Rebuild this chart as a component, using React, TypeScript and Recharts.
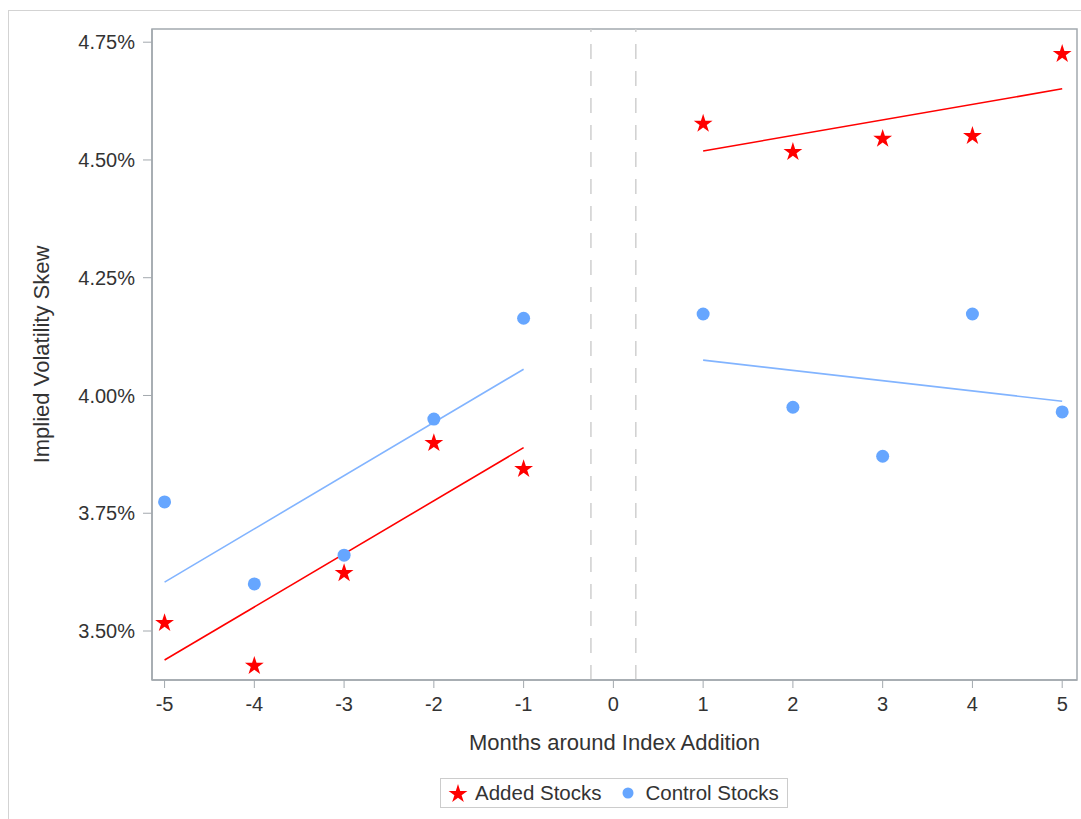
import React from 'react';
import {
  ComposedChart,
  XAxis,
  YAxis,
  Scatter,
  Line,
  ReferenceLine,
  ReferenceArea,
  Symbols,
} from 'recharts';

const months = [-5, -4, -3, -2, -1, 1, 2, 3, 4, 5];
const addedStocks = [3.519, 3.428, 3.625, 3.901, 3.846, 4.579, 4.519, 4.547, 4.553, 4.727];
const controlStocks = [3.774, 3.6, 3.661, 3.95, 4.164, 4.173, 3.975, 3.871, 4.173, 3.965];
const xTicks = [-5, -4, -3, -2, -1, 0, 1, 2, 3, 4, 5];
const yTicks = [3.5, 3.75, 4.0, 4.25, 4.5, 4.75];
const eventWindow = [-0.25, 0.25];
const seriesNames = ['Added Stocks', 'Control Stocks'];

const RED = '#FF0000';
const BLUE_DOT = '#66A6FF';
const BLUE_LINE = '#82B4FF';
const FONT = '"Liberation Sans", Arial, sans-serif';

const X_DOMAIN: [number, number] = [-5.14, 5.165];
const Y_DOMAIN: [number, number] = [3.396, 4.778];

type Pt = { x: number; y: number };

const toPoints = (vals: number[]): Pt[] => months.map((m, i) => ({ x: m, y: vals[i] }));

// least-squares fit line over a window of months
const fitLine = (pts: Pt[]): Pt[] => {
  const n = pts.length;
  const mx = pts.reduce((s, p) => s + p.x, 0) / n;
  const my = pts.reduce((s, p) => s + p.y, 0) / n;
  let num = 0;
  let den = 0;
  pts.forEach((p) => {
    num += (p.x - mx) * (p.y - my);
    den += (p.x - mx) * (p.x - mx);
  });
  const b = num / den;
  const a = my - b * mx;
  const xs = pts.map((p) => p.x);
  const x0 = Math.min(...xs);
  const x1 = Math.max(...xs);
  return [
    { x: x0, y: a + b * x0 },
    { x: x1, y: a + b * x1 },
  ];
};

const addedPts = toPoints(addedStocks);
const controlPts = toPoints(controlStocks);
const addedPre = fitLine(addedPts.filter((p) => p.x < 0));
const addedPost = fitLine(addedPts.filter((p) => p.x > 0));
const controlPre = fitLine(controlPts.filter((p) => p.x < 0));
const controlPost = fitLine(controlPts.filter((p) => p.x > 0));

const StarShape = (props: any) => (
  <Symbols type="star" size={110} cx={props.cx} cy={props.cy + 1} fill={RED} />
);
const DotShape = (props: any) => <circle cx={props.cx} cy={props.cy} r={6.5} fill={BLUE_DOT} />;

const axisColor = '#A3A9AE';
const tickStyle = { fill: '#333', fontSize: 20, fontFamily: FONT };

export default function App() {
  return (
    <div
      style={{
        position: 'fixed',
        left: 0,
        top: 0,
        width: 1081,
        height: 819,
        overflow: 'hidden',
        background: '#fff',
      }}
    >
      <div
        style={{
          position: 'absolute',
          left: 8,
          top: 10,
          width: 1200,
          height: 1000,
          border: '1px solid #D3D3D3',
        }}
      />
      <div style={{ position: 'absolute', left: 0, top: 0 }}>
        <ComposedChart
          width={1081}
          height={819}
          margin={{ top: 29, right: 4, bottom: 0, left: 0 }}
          style={{ fontFamily: FONT }}
        >
          <XAxis
            type="number"
            dataKey="x"
            domain={X_DOMAIN}
            ticks={xTicks}
            allowDataOverflow
            height={139}
            stroke={axisColor}
            tickSize={8}
            tickMargin={9}
            tick={tickStyle}
            tickLine={{ stroke: axisColor }}
            axisLine={{ stroke: axisColor, strokeWidth: 1.5 }}
            label={{
              content: (p: any) => {
                const vb = p.viewBox || {};
                return (
                  <text
                    x={vb.x + vb.width / 2}
                    y={vb.y + 70}
                    textAnchor="middle"
                    fill="#333"
                    fontSize={22}
                    fontFamily={FONT}
                  >
                    Months around Index Addition
                  </text>
                );
              },
            }}
          />
          <YAxis
            type="number"
            dataKey="y"
            domain={Y_DOMAIN}
            ticks={yTicks}
            allowDataOverflow
            width={152}
            stroke={axisColor}
            tickSize={9}
            tickMargin={8}
            tick={tickStyle}
            tickLine={{ stroke: axisColor }}
            axisLine={{ stroke: axisColor, strokeWidth: 1.5 }}
            tickFormatter={(v: number) => `${v.toFixed(2)}%`}
            label={{
              content: (p: any) => {
                const vb = p.viewBox || {};
                const cx = vb.x + 41;
                const cy = vb.y + vb.height / 2;
                return (
                  <text
                    x={cx}
                    y={cy}
                    transform={`rotate(-90 ${cx} ${cy})`}
                    textAnchor="middle"
                    dominantBaseline="central"
                    fill="#333"
                    fontSize={22}
                    fontFamily={FONT}
                  >
                    Implied Volatility Skew
                  </text>
                );
              },
            }}
          />
          <ReferenceArea
            x1={X_DOMAIN[0]}
            x2={X_DOMAIN[1]}
            y1={Y_DOMAIN[0]}
            y2={Y_DOMAIN[1]}
            fill="none"
            stroke={axisColor}
            strokeWidth={1.5}
            ifOverflow="visible"
          />
          {eventWindow.map((v) => (
            <ReferenceLine
              key={v}
              x={v}
              stroke="#CFCFCF"
              strokeWidth={1.5}
              strokeDasharray="15 12"
            />
          ))}
          <Line data={controlPre} dataKey="y" stroke={BLUE_LINE} strokeWidth={1.6} dot={false} activeDot={false} isAnimationActive={false} />
          <Line data={controlPost} dataKey="y" stroke={BLUE_LINE} strokeWidth={1.6} dot={false} activeDot={false} isAnimationActive={false} />
          <Line data={addedPre} dataKey="y" stroke={RED} strokeWidth={1.6} dot={false} activeDot={false} isAnimationActive={false} />
          <Line data={addedPost} dataKey="y" stroke={RED} strokeWidth={1.6} dot={false} activeDot={false} isAnimationActive={false} />
          <Scatter name={seriesNames[1]} data={controlPts} shape={DotShape} isAnimationActive={false} />
          <Scatter name={seriesNames[0]} data={addedPts} shape={StarShape} isAnimationActive={false} />
        </ComposedChart>
      </div>
      <div
        style={{
          position: 'absolute',
          left: 440,
          top: 778,
          width: 346,
          height: 28,
          border: '1px solid #CCCCCC',
          display: 'flex',
          alignItems: 'center',
          fontFamily: FONT,
          fontSize: 20.5,
          color: '#333',
          boxSizing: 'content-box',
        }}
      >
        <svg width={22} height={22} style={{ marginLeft: 6 }}>
          <Symbols type="star" size={110} cx={11} cy={12} fill={RED} />
        </svg>
        <span style={{ marginLeft: 6 }}>{seriesNames[0]}</span>
        <svg width={14} height={14} style={{ marginLeft: 19 }}>
          <circle cx={7} cy={7} r={5.5} fill={BLUE_DOT} />
        </svg>
        <span style={{ marginLeft: 11 }}>{seriesNames[1]}</span>
      </div>
    </div>
  );
}
